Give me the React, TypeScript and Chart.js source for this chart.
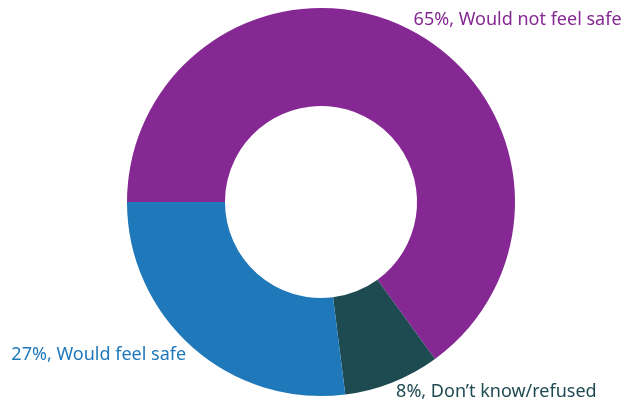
import React, { useEffect, useRef } from "react";
import { Chart, registerables } from "chart.js";

Chart.register(...registerables);

const categories = ["Would not feel safe", "Don’t know/refused", "Would feel safe"];
const values = [65, 8, 27];
const colors = ["#852893", "#1E4A52", "#1F78BA"];

const labelPlugin = {
  id: "outerLabels",
  afterDatasetsDraw(chart: any) {
    const ctx = chart.ctx;
    const meta = chart.getDatasetMeta(0);
    ctx.save();
    ctx.font = "18px 'Noto Sans', sans-serif";
    ctx.textBaseline = "middle";
    meta.data.forEach((arc: any, i: number) => {
      const p = arc.getProps(["x", "y", "startAngle", "endAngle", "outerRadius"], true);
      const mid = (p.startAngle + p.endAngle) / 2;
      const r = p.outerRadius + 10;
      const x = p.x + Math.cos(mid) * r;
      const y = p.y + Math.sin(mid) * r;
      ctx.textAlign = Math.cos(mid) >= 0 ? "left" : "right";
      ctx.fillStyle = colors[i];
      ctx.fillText(`${values[i]}%, ${categories[i]}`, x, y);
    });
    ctx.restore();
  },
};

export default function App() {
  const ref = useRef<HTMLCanvasElement>(null);
  useEffect(() => {
    document.body.style.margin = "0";
    const chart = new Chart(ref.current!, {
      type: "doughnut",
      data: {
        labels: categories,
        datasets: [
          {
            data: values,
            backgroundColor: colors,
            borderWidth: 0,
          },
        ],
      },
      options: {
        responsive: false,
        animation: false,
        rotation: -90,
        cutout: "49.5%",
        layout: { padding: { left: 10, right: 0, top: 8, bottom: 6 } },
        plugins: { legend: { display: false }, tooltip: { enabled: false } },
      },
      plugins: [labelPlugin],
    });
    return () => chart.destroy();
  }, []);
  return (
    <div style={{ width: 632, height: 402 }}>
      <canvas ref={ref} width={632} height={402} />
    </div>
  );
}
